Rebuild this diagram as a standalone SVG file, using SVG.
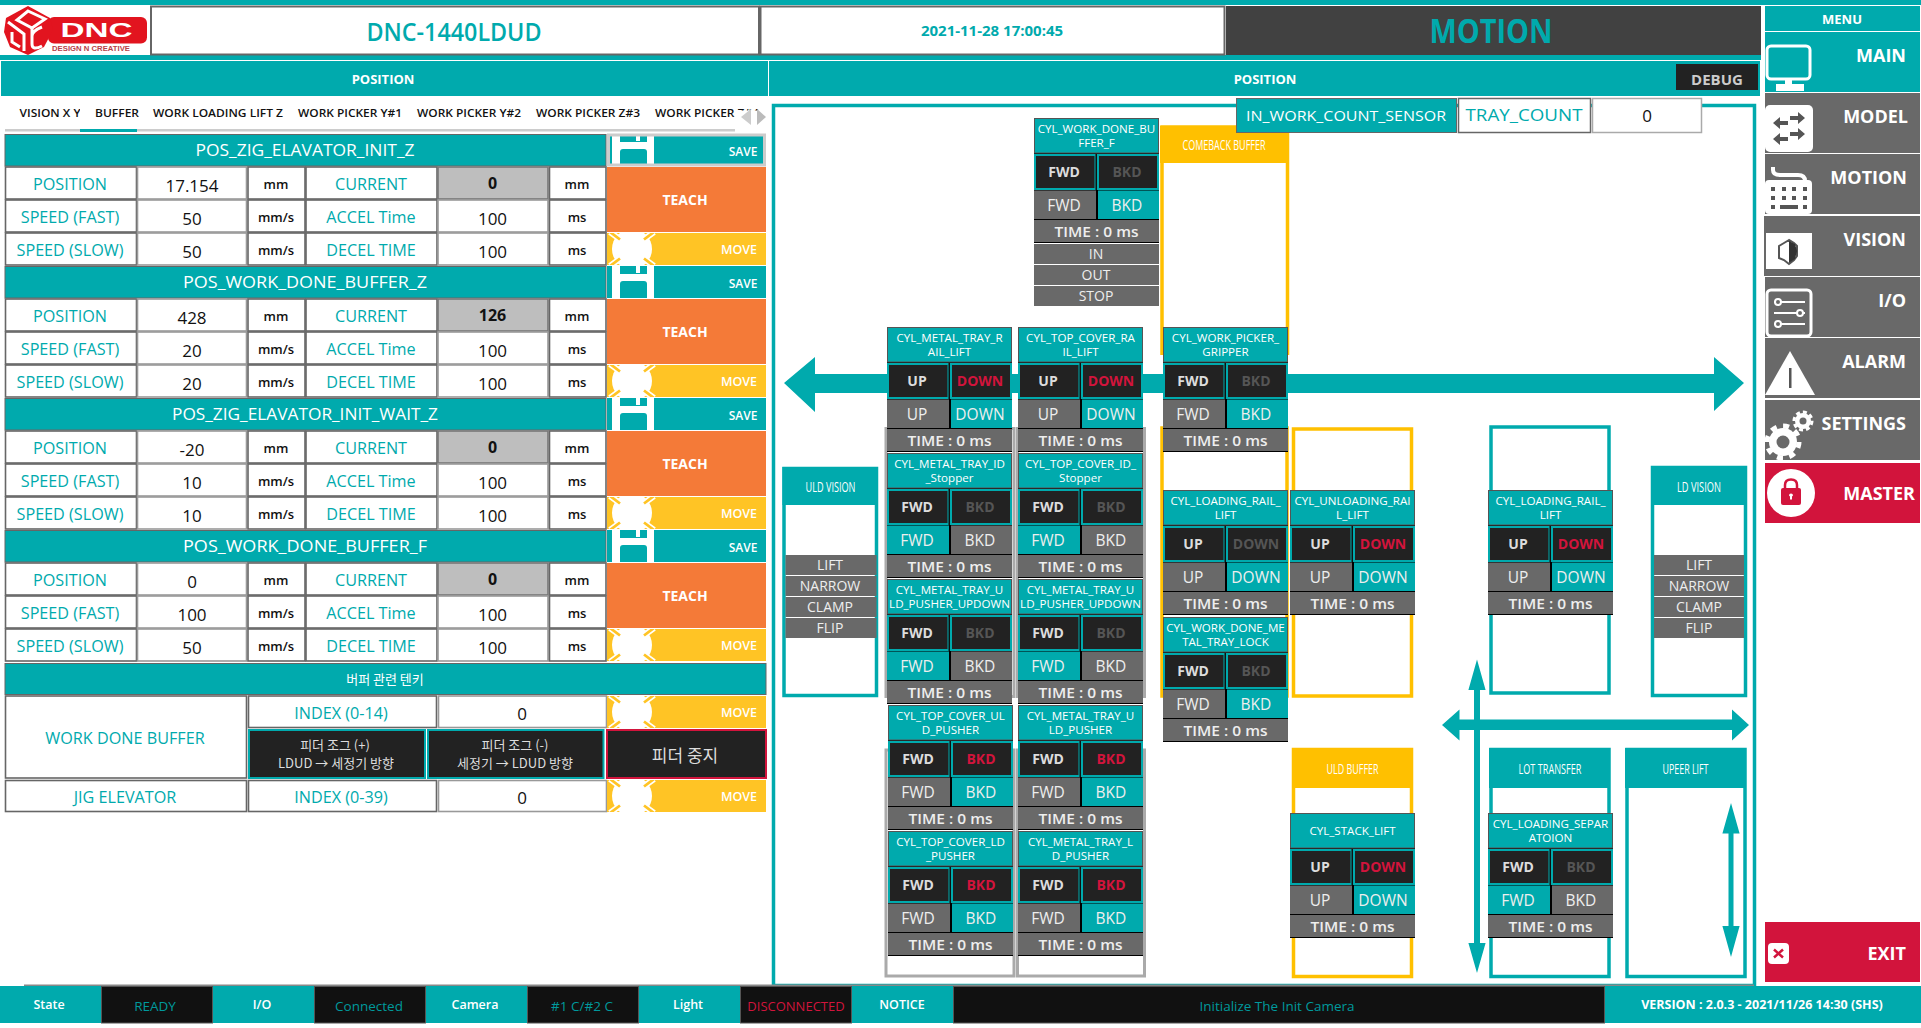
<svg xmlns="http://www.w3.org/2000/svg" width="1921" height="1028" viewBox="0 0 1921 1028">
<style>
text{font-family:"Open Sans","Noto Sans",sans-serif;text-anchor:middle;dominant-baseline:central;transform:translateY(-.3px)}
.w{fill:#fff}.tl{fill:#00aaad}.bk{fill:#000}.dk{fill:#222}.gy{fill:#696969}
.hb{font-size:13px;font-weight:700;fill:#fff}
.tab{font-size:11.5px;font-weight:600;fill:#111}
.sh{font-size:17px;fill:#fff}
.cl{fill:#fff;stroke:#666;stroke-width:1.6}
.cv{fill:#fff;stroke:#999;stroke-width:1.6}
.lb{font-size:16.2px;font-weight:500;fill:#00aaad}
.vl{font-size:17px;fill:#111}
.cu{font-size:16px;font-weight:700;fill:#111}
.un{font-size:13px;font-weight:600;fill:#111}
.sv{font-size:12px;font-weight:600;fill:#fff}
.tc{font-size:14px;font-weight:700;fill:#fff}
.mv{font-size:12.5px;font-weight:600;fill:#fff}
.pt{font-size:11.6px;font-weight:500;fill:#fff}
.ii{font-size:14px;font-weight:700;fill:#ddd}
.red{fill:#d2143c}.dim{fill:#555}
.pb{font-size:15.5px;font-weight:500;fill:#eee}
.pm{font-size:15px;font-weight:600;fill:#eee}
.bar{font-size:14px;font-weight:500;fill:#eee}
.frT{fill:none;stroke:#00aaad;stroke-width:3.5}
.frY{fill:none;stroke:#ffc000;stroke-width:3.5}
.frG{fill:none;stroke:#aaa;stroke-width:3}
.cap{font-size:14px;fill:#fff}
.mn{font-size:18px;font-weight:700;fill:#fff;text-anchor:end}
.st{font-size:12.5px;font-weight:600;fill:#fff}
.sd{font-size:13.5px;fill:#00999c}
.kr{font-family:"Noto Sans CJK KR","Noto Sans",sans-serif;fill:#ddd;font-size:13px}
</style>
<defs>
<clipPath id="mc"><rect x="0" y="0" width="159" height="32"/></clipPath>
<g id="pc">
<rect x="0" y="0" width="125" height="125" class="bk"/>
<rect x="0.5" y="0.5" width="124" height="34.5" class="tl" stroke="#555"/>
<rect x="0" y="36" width="125" height="36" class="tl"/>
<rect x="2" y="38" width="58.5" height="32" class="dk"/>
<rect x="65" y="38" width="58" height="32" class="dk"/>
<rect x="61.5" y="36" width="1.5" height="36" fill="#111"/>
<rect x="0" y="102" width="125" height="22" class="gy"/>
</g>
<g id="pl"><use href="#pc"/><rect x="0" y="72.5" width="62" height="28.5" class="tl"/><rect x="64" y="72.5" width="61" height="28.5" class="gy"/></g>
<g id="pr"><use href="#pc"/><rect x="0" y="72.5" width="62" height="28.5" class="gy"/><rect x="64" y="72.5" width="61" height="28.5" class="tl"/></g>
<g id="saveic">
<rect x="5" y="0" width="42" height="32" class="w"/>
<path d="M13 0H29V7H33V0H40V8H13Z" class="tl"/>
<path d="M13 32V18Q13 15 16 15H37Q40 15 40 18V32Z" class="tl"/>
</g>
<g id="moveb">
<rect x="0" y="0" width="159" height="32" fill="#ffc425"/>
<g clip-path="url(#mc)">
<ellipse cx="25" cy="16" rx="20" ry="20" class="w"/>
<path d="M3 -1L14 7M36 7L47 -1M3 33L14 25M36 25L47 33" stroke="#fff" stroke-width="6" fill="none"/>
<path d="M3 -1L13 6.500M37 6.500L47 -1M3 33L13 25.500M37 25.500L47 33" stroke="#ffc425" stroke-width="2.800" fill="none"/>
</g>
</g>
<g id="secb">
<rect x="5" y="0.5" width="601" height="31.5" class="tl" stroke="#666"/>
<rect x="5.5" y="33" width="131" height="32" class="cl"/><rect x="137.5" y="33" width="109" height="32" class="cv"/><rect x="248" y="33" width="57" height="32" class="cl"/><rect x="306" y="33" width="131" height="32" class="cl"/><rect x="438" y="33" width="110" height="32" fill="#bebebe" stroke="#777" stroke-width="1.6"/><rect x="549.5" y="33" width="56.5" height="32" class="cl"/>
<rect x="5.5" y="66" width="131" height="32" class="cl"/><rect x="137.5" y="66" width="109" height="32" class="cv"/><rect x="248" y="66" width="57" height="32" class="cl"/><rect x="306" y="66" width="131" height="32" class="cl"/><rect x="438" y="66" width="110" height="32" class="cv"/><rect x="549.5" y="66" width="56.5" height="32" class="cl"/>
<rect x="5.5" y="99" width="131" height="32" class="cl"/><rect x="137.5" y="99" width="109" height="32" class="cv"/><rect x="248" y="99" width="57" height="32" class="cl"/><rect x="306" y="99" width="131" height="32" class="cl"/><rect x="438" y="99" width="110" height="32" class="cv"/><rect x="549.5" y="99" width="56.5" height="32" class="cl"/>
<rect x="607" y="0" width="159" height="32" class="tl"/>
<use href="#saveic" x="607" y="0"/>
<rect x="607" y="33" width="159" height="65" fill="#f47a38"/>
<use href="#moveb" x="607" y="99"/>
</g>
</defs>

<rect width="1921" height="1028" fill="#fff"/>

<g id="top-bar">
<rect x="0" y="0" width="1921" height="5" class="tl"/>
<rect x="0" y="55" width="1761" height="5" class="tl"/>
<rect x="151" y="6.5" width="608" height="48" fill="#fff" stroke="#666" stroke-width="2"/>
<text x="454" y="31" font-size="26" font-weight="600" fill="#00aaad" textLength="175" lengthAdjust="spacingAndGlyphs">DNC-1440LDUD</text>
<rect x="760.5" y="6.5" width="464" height="48" fill="#fff" stroke="#666" stroke-width="2"/>
<text x="992" y="30" font-size="15" font-weight="700" fill="#00aaad">2021-11-28 17:00:45</text>
<rect x="1226" y="6" width="535" height="49" fill="#414141"/>
<text x="1491" y="30" font-size="34" font-weight="700" fill="#00aaad" textLength="123" lengthAdjust="spacingAndGlyphs">MOTION</text>
</g>

<g id="logo">
<rect x="48" y="17" width="99" height="26.500" rx="6" fill="#e2141f"/>
<path d="M28 6L50 18L53 30L44 47L28 55L10 47L4 32L6 18Z" fill="#e2141f"/>
<path d="M28 11L45 19L32 28L17 20Z" fill="#e2141f" stroke="#fff" stroke-width="3"/>
<path d="M8 22L24 34V51M12 32V42L20 47M32 28V36Q32 31 42 27M32 36V44Q32 51 42 46" fill="none" stroke="#fff" stroke-width="3"/>
<text x="96.500" y="30.500" style="font-family:'Liberation Sans',sans-serif" font-size="20" font-weight="700" fill="#fff" textLength="72" lengthAdjust="spacingAndGlyphs">DNC</text>
<text x="91" y="48.500" style="font-family:'Liberation Sans',sans-serif" font-size="7" font-weight="700" fill="#b84048" textLength="78" lengthAdjust="spacingAndGlyphs">DESIGN N CREATIVE</text>
</g>

<g id="left-position">
<rect x="1" y="61" width="767" height="35" class="tl"/>
<text x="383" y="79" class="hb">POSITION</text>
<rect x="5" y="129" width="730" height="2.5" fill="#ccc"/>
<rect x="80" y="129" width="57" height="3" class="tl"/>
<text x="50" y="113" class="tab" textLength="61" lengthAdjust="spacingAndGlyphs">VISION X Y</text>
<rect x="80" y="105" width="12" height="20" class="w"/>
<text x="117" y="113" class="tab" textLength="44" lengthAdjust="spacingAndGlyphs">BUFFER</text>
<text x="218" y="113" class="tab" textLength="130" lengthAdjust="spacingAndGlyphs">WORK LOADING LIFT Z</text>
<text x="350" y="113" class="tab" textLength="104" lengthAdjust="spacingAndGlyphs">WORK PICKER Y#1</text>
<text x="469" y="113" class="tab" textLength="104" lengthAdjust="spacingAndGlyphs">WORK PICKER Y#2</text>
<text x="588" y="113" class="tab" textLength="104" lengthAdjust="spacingAndGlyphs">WORK PICKER Z#3</text>
<text x="707" y="113" class="tab" textLength="104" lengthAdjust="spacingAndGlyphs">WORK PICKER Z#4</text>
<rect x="735" y="110.500" width="32" height="22" class="w"/>
<path d="M741 117L751 109V125Z" fill="#ccc"/>
<path d="M766 117L757 109V125Z" fill="#bbb"/>
</g>

<g id="sec-1" transform="translate(0,134)">
<use href="#secb"/>
<rect x="608.5" y="1" width="156" height="30" fill="none" stroke="#ccc" stroke-width="3"/>
<text x="305" y="16" class="sh" textLength="219" lengthAdjust="spacingAndGlyphs">POS_ZIG_ELAVATOR_INIT_Z</text>
<text x="70" y="50" class="lb">POSITION</text><text x="192" y="51.5" class="vl">17.154</text><text x="276" y="50" class="un">mm</text><text x="371" y="50" class="lb">CURRENT</text><text x="492.5" y="49" class="cu">0</text><text x="577" y="50" class="un">mm</text>
<text x="70" y="83" class="lb">SPEED (FAST)</text><text x="192" y="84.5" class="vl">50</text><text x="276" y="83" class="un">mm/s</text><text x="371" y="83" class="lb">ACCEL Time</text><text x="492.5" y="84.5" class="vl">100</text><text x="577" y="83" class="un">ms</text>
<text x="70" y="116" class="lb">SPEED (SLOW)</text><text x="192" y="117.5" class="vl">50</text><text x="276" y="116" class="un">mm/s</text><text x="371" y="116" class="lb">DECEL TIME</text><text x="492.5" y="117.5" class="vl">100</text><text x="577" y="116" class="un">ms</text>
<text x="743" y="18" class="sv">SAVE</text><text x="685" y="66" class="tc">TEACH</text><text x="739" y="116" class="mv">MOVE</text>
</g>
<g id="sec-2" transform="translate(0,266)">
<use href="#secb"/>
<text x="305" y="16" class="sh" textLength="244" lengthAdjust="spacingAndGlyphs">POS_WORK_DONE_BUFFER_Z</text>
<text x="70" y="50" class="lb">POSITION</text><text x="192" y="51.5" class="vl">428</text><text x="276" y="50" class="un">mm</text><text x="371" y="50" class="lb">CURRENT</text><text x="492.5" y="49" class="cu">126</text><text x="577" y="50" class="un">mm</text>
<text x="70" y="83" class="lb">SPEED (FAST)</text><text x="192" y="84.5" class="vl">20</text><text x="276" y="83" class="un">mm/s</text><text x="371" y="83" class="lb">ACCEL Time</text><text x="492.5" y="84.5" class="vl">100</text><text x="577" y="83" class="un">ms</text>
<text x="70" y="116" class="lb">SPEED (SLOW)</text><text x="192" y="117.5" class="vl">20</text><text x="276" y="116" class="un">mm/s</text><text x="371" y="116" class="lb">DECEL TIME</text><text x="492.5" y="117.5" class="vl">100</text><text x="577" y="116" class="un">ms</text>
<text x="743" y="18" class="sv">SAVE</text><text x="685" y="66" class="tc">TEACH</text><text x="739" y="116" class="mv">MOVE</text>
</g>
<g id="sec-3" transform="translate(0,398)">
<use href="#secb"/>
<text x="305" y="16" class="sh" textLength="266" lengthAdjust="spacingAndGlyphs">POS_ZIG_ELAVATOR_INIT_WAIT_Z</text>
<text x="70" y="50" class="lb">POSITION</text><text x="192" y="51.5" class="vl">-20</text><text x="276" y="50" class="un">mm</text><text x="371" y="50" class="lb">CURRENT</text><text x="492.5" y="49" class="cu">0</text><text x="577" y="50" class="un">mm</text>
<text x="70" y="83" class="lb">SPEED (FAST)</text><text x="192" y="84.5" class="vl">10</text><text x="276" y="83" class="un">mm/s</text><text x="371" y="83" class="lb">ACCEL Time</text><text x="492.5" y="84.5" class="vl">100</text><text x="577" y="83" class="un">ms</text>
<text x="70" y="116" class="lb">SPEED (SLOW)</text><text x="192" y="117.5" class="vl">10</text><text x="276" y="116" class="un">mm/s</text><text x="371" y="116" class="lb">DECEL TIME</text><text x="492.5" y="117.5" class="vl">100</text><text x="577" y="116" class="un">ms</text>
<text x="743" y="18" class="sv">SAVE</text><text x="685" y="66" class="tc">TEACH</text><text x="739" y="116" class="mv">MOVE</text>
</g>
<g id="sec-4" transform="translate(0,530)">
<use href="#secb"/>
<text x="305" y="16" class="sh" textLength="244" lengthAdjust="spacingAndGlyphs">POS_WORK_DONE_BUFFER_F</text>
<text x="70" y="50" class="lb">POSITION</text><text x="192" y="51.5" class="vl">0</text><text x="276" y="50" class="un">mm</text><text x="371" y="50" class="lb">CURRENT</text><text x="492.5" y="49" class="cu">0</text><text x="577" y="50" class="un">mm</text>
<text x="70" y="83" class="lb">SPEED (FAST)</text><text x="192" y="84.5" class="vl">100</text><text x="276" y="83" class="un">mm/s</text><text x="371" y="83" class="lb">ACCEL Time</text><text x="492.5" y="84.5" class="vl">100</text><text x="577" y="83" class="un">ms</text>
<text x="70" y="116" class="lb">SPEED (SLOW)</text><text x="192" y="117.5" class="vl">50</text><text x="276" y="116" class="un">mm/s</text><text x="371" y="116" class="lb">DECEL TIME</text><text x="492.5" y="117.5" class="vl">100</text><text x="577" y="116" class="un">ms</text>
<text x="743" y="18" class="sv">SAVE</text><text x="685" y="66" class="tc">TEACH</text><text x="739" y="116" class="mv">MOVE</text>
</g>

<g id="buffer-teach">
<rect x="5" y="663.5" width="761" height="31" class="tl" stroke="#666"/>
<text x="385" y="679" class="kr" style="fill:#fff">버퍼 관련 텐키</text>
<rect x="5.5" y="696" width="241" height="82" class="cl"/>
<text x="125" y="738" class="lb">WORK DONE BUFFER</text>
<rect x="248.5" y="696" width="188" height="31.5" class="cl"/>
<text x="341" y="713" class="lb">INDEX (0-14)</text>
<rect x="438.5" y="696" width="168" height="31.5" class="cv"/>
<text x="522" y="714" class="vl">0</text>
<use href="#moveb" x="607" y="696"/>
<text x="739" y="713" class="mv">MOVE</text>
<rect x="249" y="730" width="176" height="48" class="dk" stroke="#00aaad" stroke-width="2"/>
<text x="335" y="745" class="kr">피더 조그 (+)</text>
<text x="336" y="763" class="kr">LDUD → 세정기 방향</text>
<rect x="428" y="730" width="175.500" height="48" class="dk" stroke="#00aaad" stroke-width="2"/>
<text x="515" y="745" class="kr">피더 조그 (-)</text>
<text x="515" y="763" class="kr">세정기 → LDUD 방향</text>
<rect x="607" y="730" width="159" height="48" class="dk" stroke="#d2143c" stroke-width="2"/>
<text x="685" y="755" class="kr" style="font-size:17px">피더 중지</text>
<rect x="5.5" y="780.500" width="241" height="31" class="cl"/>
<text x="125" y="797" class="lb">JIG ELEVATOR</text>
<rect x="248.5" y="780.500" width="188" height="31" class="cl"/>
<text x="341" y="797" class="lb">INDEX (0-39)</text>
<rect x="438.5" y="780.500" width="168" height="31" class="cv"/>
<text x="522" y="798" class="vl">0</text>
<use href="#moveb" x="607" y="780"/>
<text x="739" y="797" class="mv">MOVE</text>
</g>

<g id="right-position">
<rect x="769" y="61" width="991" height="35" class="tl"/>
<text x="1265" y="79" class="hb">POSITION</text>
<rect x="1676" y="64" width="82" height="26" class="dk"/>
<text x="1717" y="79" font-size="15" font-weight="700" fill="#ccc">DEBUG</text>
<rect x="773.5" y="105.500" width="981" height="880" fill="#fff" stroke="#00aaad" stroke-width="3.5"/>
</g>

<g id="connectors">
<path d="M784 383L815 357V374H1714V357L1744 383L1714 411V393H815V412Z" class="tl"/>
<path d="M1442 725L1459.500 709.500V719.500H1732V709.500L1749 725L1732 740.500V730H1459.500V740.500Z" class="tl"/>
<path d="M1477 659.500L1485.600 690H1480V943H1485.600L1477 973L1468.400 943H1474V690H1468.400Z" class="tl"/>
</g>

<g id="frames">
<rect x="886" y="428.500" width="128" height="268" class="frG"/>
<rect x="1017.500" y="428.500" width="127" height="268" class="frG"/>
<rect x="886" y="750" width="128" height="226" class="frG"/>
<rect x="1017.500" y="750" width="127" height="226" class="frG"/>
<rect x="1162" y="428" width="125" height="268" class="frY"/>
<path d="M1162 355V127H1287.500V355" class="frY"/>
<rect x="1160" y="126" width="129" height="37" fill="#ffc000"/>
<text x="1224" y="145" class="cap" textLength="83" lengthAdjust="spacingAndGlyphs">COMEBACK BUFFER</text>
<rect x="1293.500" y="429" width="118" height="267" class="frY"/>
<rect x="1491" y="427" width="118" height="266" class="frT"/>
</g>

<g id="uld-vision">
<rect x="784" y="468.500" width="92.500" height="227" class="frT"/>
<rect x="782.500" y="467" width="95.500" height="38" class="tl"/>
<text x="830.500" y="487" class="cap" textLength="50" lengthAdjust="spacingAndGlyphs">ULD VISION</text>
<rect x="785.500" y="555" width="91" height="20" class="gy"/><text x="830" y="565" class="bar">LIFT</text>
<rect x="785.500" y="576" width="91" height="20" class="gy"/><text x="830" y="586" class="bar">NARROW</text>
<rect x="785.500" y="597" width="91" height="20" class="gy"/><text x="830" y="607" class="bar">CLAMP</text>
<rect x="785.500" y="618" width="91" height="20" class="gy"/><text x="830" y="628" class="bar">FLIP</text>
</g>
<g id="ld-vision">
<rect x="1652.500" y="467.500" width="93" height="228" class="frT"/>
<rect x="1651" y="466" width="96" height="39" class="tl"/>
<text x="1699" y="487" class="cap" textLength="44" lengthAdjust="spacingAndGlyphs">LD VISION</text>
<rect x="1654" y="555" width="90" height="20" class="gy"/><text x="1699" y="565" class="bar">LIFT</text>
<rect x="1654" y="576" width="90" height="20" class="gy"/><text x="1699" y="586" class="bar">NARROW</text>
<rect x="1654" y="597" width="90" height="20" class="gy"/><text x="1699" y="607" class="bar">CLAMP</text>
<rect x="1654" y="618" width="90" height="20" class="gy"/><text x="1699" y="628" class="bar">FLIP</text>
</g>
<g id="uld-buffer">
<rect x="1293.500" y="749.500" width="118" height="227" class="frY"/>
<rect x="1292" y="748" width="121" height="40" fill="#ffc000"/>
<text x="1352.500" y="769" class="cap" textLength="52" lengthAdjust="spacingAndGlyphs">ULD BUFFER</text>
</g>
<g id="lot-transfer">
<rect x="1491" y="749.500" width="118" height="227" class="frT"/>
<rect x="1489" y="748" width="121" height="40" class="tl"/>
<text x="1550" y="769" class="cap" textLength="63" lengthAdjust="spacingAndGlyphs">LOT TRANSFER</text>
</g>
<g id="upper-lift">
<rect x="1627" y="749.500" width="118" height="227" class="frT"/>
<rect x="1625" y="748" width="121" height="40" class="tl"/>
<text x="1685.500" y="769" class="cap" textLength="46" lengthAdjust="spacingAndGlyphs">UPEER LIFT</text>
<path d="M1731 803L1739.600 833.500H1733.500V926H1739.600L1731 957L1722.400 926H1728.500V833.500H1722.400Z" class="tl"/>
</g>

<g id="cyl-work-done-buffer-f" transform="translate(1034,118)">
<use href="#pr"/>
<text x="62.500" y="11" class="pt">CYL_WORK_DONE_BU</text><text x="62.500" y="25" class="pt">FFER_F</text>
<text x="30" y="54" class="ii">FWD</text><text x="93" y="54" class="ii dim">BKD</text>
<text x="30" y="87" class="pb">FWD</text><text x="93" y="87" class="pb">BKD</text>
<text x="62.500" y="113" class="pm" textLength="84" lengthAdjust="spacingAndGlyphs">TIME : 0 ms</text>
<rect x="0" y="126" width="125" height="20" class="gy"/><text x="62" y="136" class="bar">IN</text>
<rect x="0" y="147" width="125" height="20" class="gy"/><text x="62" y="157" class="bar">OUT</text>
<rect x="0" y="168" width="125" height="20" class="gy"/><text x="62" y="178" class="bar">STOP</text>
</g>

<g id="cyl-metal-tray-rail-lift" transform="translate(887,327)"><use href="#pr"/>
<text x="62.500" y="11" class="pt">CYL_METAL_TRAY_R</text><text x="62.500" y="25" class="pt">AIL_LIFT</text>
<text x="30" y="54" class="ii">UP</text><text x="93" y="54" class="ii red">DOWN</text>
<text x="30" y="87" class="pb">UP</text><text x="93" y="87" class="pb">DOWN</text>
<text x="62.500" y="113" class="pm" textLength="84" lengthAdjust="spacingAndGlyphs">TIME : 0 ms</text></g>
<g id="cyl-metal-tray-id-stopper" transform="translate(887,453)"><use href="#pl"/>
<text x="62.500" y="11" class="pt">CYL_METAL_TRAY_ID</text><text x="62.500" y="25" class="pt">_Stopper</text>
<text x="30" y="54" class="ii">FWD</text><text x="93" y="54" class="ii dim">BKD</text>
<text x="30" y="87" class="pb">FWD</text><text x="93" y="87" class="pb">BKD</text>
<text x="62.500" y="113" class="pm" textLength="84" lengthAdjust="spacingAndGlyphs">TIME : 0 ms</text></g>
<g id="cyl-metal-tray-uld-pusher-updown-1" transform="translate(887,579)"><use href="#pl"/>
<text x="62.500" y="11" class="pt">CYL_METAL_TRAY_U</text><text x="62.500" y="25" class="pt">LD_PUSHER_UPDOWN</text>
<text x="30" y="54" class="ii">FWD</text><text x="93" y="54" class="ii dim">BKD</text>
<text x="30" y="87" class="pb">FWD</text><text x="93" y="87" class="pb">BKD</text>
<text x="62.500" y="113" class="pm" textLength="84" lengthAdjust="spacingAndGlyphs">TIME : 0 ms</text></g>
<g id="cyl-top-cover-uld-pusher" transform="translate(888,705)"><use href="#pr"/>
<text x="62.500" y="11" class="pt">CYL_TOP_COVER_UL</text><text x="62.500" y="25" class="pt">D_PUSHER</text>
<text x="30" y="54" class="ii">FWD</text><text x="93" y="54" class="ii red">BKD</text>
<text x="30" y="87" class="pb">FWD</text><text x="93" y="87" class="pb">BKD</text>
<text x="62.500" y="113" class="pm" textLength="84" lengthAdjust="spacingAndGlyphs">TIME : 0 ms</text></g>
<g id="cyl-top-cover-ld-pusher" transform="translate(888,831)"><use href="#pr"/>
<text x="62.500" y="11" class="pt">CYL_TOP_COVER_LD</text><text x="62.500" y="25" class="pt">_PUSHER</text>
<text x="30" y="54" class="ii">FWD</text><text x="93" y="54" class="ii red">BKD</text>
<text x="30" y="87" class="pb">FWD</text><text x="93" y="87" class="pb">BKD</text>
<text x="62.500" y="113" class="pm" textLength="84" lengthAdjust="spacingAndGlyphs">TIME : 0 ms</text></g>

<g id="cyl-top-cover-rail-lift" transform="translate(1018,327)"><use href="#pr"/>
<text x="62.500" y="11" class="pt">CYL_TOP_COVER_RA</text><text x="62.500" y="25" class="pt">IL_LIFT</text>
<text x="30" y="54" class="ii">UP</text><text x="93" y="54" class="ii red">DOWN</text>
<text x="30" y="87" class="pb">UP</text><text x="93" y="87" class="pb">DOWN</text>
<text x="62.500" y="113" class="pm" textLength="84" lengthAdjust="spacingAndGlyphs">TIME : 0 ms</text></g>
<g id="cyl-top-cover-id-stopper" transform="translate(1018,453)"><use href="#pl"/>
<text x="62.500" y="11" class="pt">CYL_TOP_COVER_ID_</text><text x="62.500" y="25" class="pt">Stopper</text>
<text x="30" y="54" class="ii">FWD</text><text x="93" y="54" class="ii dim">BKD</text>
<text x="30" y="87" class="pb">FWD</text><text x="93" y="87" class="pb">BKD</text>
<text x="62.500" y="113" class="pm" textLength="84" lengthAdjust="spacingAndGlyphs">TIME : 0 ms</text></g>
<g id="cyl-metal-tray-uld-pusher-updown-2" transform="translate(1018,579)"><use href="#pl"/>
<text x="62.500" y="11" class="pt">CYL_METAL_TRAY_U</text><text x="62.500" y="25" class="pt">LD_PUSHER_UPDOWN</text>
<text x="30" y="54" class="ii">FWD</text><text x="93" y="54" class="ii dim">BKD</text>
<text x="30" y="87" class="pb">FWD</text><text x="93" y="87" class="pb">BKD</text>
<text x="62.500" y="113" class="pm" textLength="84" lengthAdjust="spacingAndGlyphs">TIME : 0 ms</text></g>
<g id="cyl-metal-tray-uld-pusher" transform="translate(1018,705)"><use href="#pr"/>
<text x="62.500" y="11" class="pt">CYL_METAL_TRAY_U</text><text x="62.500" y="25" class="pt">LD_PUSHER</text>
<text x="30" y="54" class="ii">FWD</text><text x="93" y="54" class="ii red">BKD</text>
<text x="30" y="87" class="pb">FWD</text><text x="93" y="87" class="pb">BKD</text>
<text x="62.500" y="113" class="pm" textLength="84" lengthAdjust="spacingAndGlyphs">TIME : 0 ms</text></g>
<g id="cyl-metal-tray-ld-pusher" transform="translate(1018,831)"><use href="#pr"/>
<text x="62.500" y="11" class="pt">CYL_METAL_TRAY_L</text><text x="62.500" y="25" class="pt">D_PUSHER</text>
<text x="30" y="54" class="ii">FWD</text><text x="93" y="54" class="ii red">BKD</text>
<text x="30" y="87" class="pb">FWD</text><text x="93" y="87" class="pb">BKD</text>
<text x="62.500" y="113" class="pm" textLength="84" lengthAdjust="spacingAndGlyphs">TIME : 0 ms</text></g>

<g id="cyl-work-picker-gripper" transform="translate(1163,327)"><use href="#pr"/>
<text x="62.500" y="11" class="pt">CYL_WORK_PICKER_</text><text x="62.500" y="25" class="pt">GRIPPER</text>
<text x="30" y="54" class="ii">FWD</text><text x="93" y="54" class="ii dim">BKD</text>
<text x="30" y="87" class="pb">FWD</text><text x="93" y="87" class="pb">BKD</text>
<text x="62.500" y="113" class="pm" textLength="84" lengthAdjust="spacingAndGlyphs">TIME : 0 ms</text></g>
<g id="cyl-loading-rail-lift-1" transform="translate(1163,490)"><use href="#pr"/>
<text x="62.500" y="11" class="pt">CYL_LOADING_RAIL_</text><text x="62.500" y="25" class="pt">LIFT</text>
<text x="30" y="54" class="ii">UP</text><text x="93" y="54" class="ii dim">DOWN</text>
<text x="30" y="87" class="pb">UP</text><text x="93" y="87" class="pb">DOWN</text>
<text x="62.500" y="113" class="pm" textLength="84" lengthAdjust="spacingAndGlyphs">TIME : 0 ms</text></g>
<g id="cyl-work-done-metal-tray-lock" transform="translate(1163,617)"><use href="#pr"/>
<text x="62.500" y="11" class="pt">CYL_WORK_DONE_ME</text><text x="62.500" y="25" class="pt">TAL_TRAY_LOCK</text>
<text x="30" y="54" class="ii">FWD</text><text x="93" y="54" class="ii dim">BKD</text>
<text x="30" y="87" class="pb">FWD</text><text x="93" y="87" class="pb">BKD</text>
<text x="62.500" y="113" class="pm" textLength="84" lengthAdjust="spacingAndGlyphs">TIME : 0 ms</text></g>
<g id="cyl-unloading-rail-lift" transform="translate(1290,490)"><use href="#pr"/>
<text x="62.500" y="11" class="pt">CYL_UNLOADING_RAI</text><text x="62.500" y="25" class="pt">L_LIFT</text>
<text x="30" y="54" class="ii">UP</text><text x="93" y="54" class="ii red">DOWN</text>
<text x="30" y="87" class="pb">UP</text><text x="93" y="87" class="pb">DOWN</text>
<text x="62.500" y="113" class="pm" textLength="84" lengthAdjust="spacingAndGlyphs">TIME : 0 ms</text></g>
<g id="cyl-stack-lift" transform="translate(1290,813)"><use href="#pr"/>
<text x="62.500" y="17.500" class="pt">CYL_STACK_LIFT</text>
<text x="30" y="54" class="ii">UP</text><text x="93" y="54" class="ii red">DOWN</text>
<text x="30" y="87" class="pb">UP</text><text x="93" y="87" class="pb">DOWN</text>
<text x="62.500" y="113" class="pm" textLength="84" lengthAdjust="spacingAndGlyphs">TIME : 0 ms</text></g>
<g id="cyl-loading-rail-lift-2" transform="translate(1488,490)"><use href="#pr"/>
<text x="62.500" y="11" class="pt">CYL_LOADING_RAIL_</text><text x="62.500" y="25" class="pt">LIFT</text>
<text x="30" y="54" class="ii">UP</text><text x="93" y="54" class="ii red">DOWN</text>
<text x="30" y="87" class="pb">UP</text><text x="93" y="87" class="pb">DOWN</text>
<text x="62.500" y="113" class="pm" textLength="84" lengthAdjust="spacingAndGlyphs">TIME : 0 ms</text></g>
<g id="cyl-loading-separatoion" transform="translate(1488,813)"><use href="#pl"/>
<text x="62.500" y="11" class="pt">CYL_LOADING_SEPAR</text><text x="62.500" y="25" class="pt">ATOION</text>
<text x="30" y="54" class="ii">FWD</text><text x="93" y="54" class="ii dim">BKD</text>
<text x="30" y="87" class="pb">FWD</text><text x="93" y="87" class="pb">BKD</text>
<text x="62.500" y="113" class="pm" textLength="84" lengthAdjust="spacingAndGlyphs">TIME : 0 ms</text></g>

<g id="sensor">
<rect x="1236.500" y="98.500" width="220" height="34" class="tl" stroke="#666"/>
<text x="1346" y="115" font-size="15" font-weight="500" fill="#fff" textLength="200" lengthAdjust="spacingAndGlyphs">IN_WORK_COUNT_SENSOR</text>
<rect x="1458.500" y="98.500" width="132" height="34" fill="#fff" stroke="#666" stroke-width="1.500"/>
<text x="1524" y="115" font-size="17" font-weight="500" fill="#00aaad" textLength="117" lengthAdjust="spacingAndGlyphs">TRAY_COUNT</text>
<rect x="1592.500" y="98.500" width="109" height="34" fill="#fff" stroke="#aaa" stroke-width="1.500"/>
<text x="1647" y="116" class="vl">0</text>
</g>

<g id="menu">
<rect x="1765" y="6" width="155" height="25" class="tl"/><text x="1842" y="19" class="hb">MENU</text>
<g id="m-main"><rect x="1765" y="32" width="155" height="60" class="tl"/>
<rect x="1767" y="46" width="43" height="33" rx="4" class="tl" stroke="#fff" stroke-width="3"/>
<path d="M1785 80H1792V84H1804V91H1776V84H1785Z" class="w"/>
<text x="1906" y="55" class="mn">MAIN</text></g>
<g id="m-model"><rect x="1765" y="93" width="155" height="60" class="gy"/>
<rect x="1765" y="105" width="48" height="47" rx="5" class="w"/>
<path d="M1773 123L1780 117V121H1788V125H1780V129ZM1805 118L1798 112V116H1790V120H1798V124ZM1773 139L1780 133V137H1788V141H1780V145ZM1805 134L1798 128V132H1790V136H1798V140Z" fill="#555"/>
<text x="1908" y="116.500" class="mn">MODEL</text></g>
<g id="m-motion"><rect x="1765" y="154" width="155" height="60" class="gy"/>
<path d="M1773 167V170Q1773 175 1780 175H1798Q1805 175 1805 181" fill="none" stroke="#fff" stroke-width="4"/>
<rect x="1765" y="180" width="47" height="34" rx="4" class="w"/>
<path d="M1771 187h4v4h-4zM1782 187h4v4h-4zM1792 187h4v4h-4zM1803 187h4v4h-4zM1771 196h4v4h-4zM1782 196h4v4h-4zM1792 196h4v4h-4zM1803 196h4v4h-4zM1771 205h4v4h-4zM1780 205h18v4h-18zM1803 205h4v4h-4z" fill="#555"/>
<text x="1907" y="177.500" class="mn">MOTION</text></g>
<g id="m-vision"><rect x="1764" y="216" width="156" height="60" class="gy"/>
<rect x="1766" y="233" width="46" height="36" class="w"/>
<path d="M1789 240L1784 243L1779 246V258L1784 260L1789 264L1794 260L1797 256V246L1794 243Z" class="w" stroke="#555" stroke-width="2"/>
<path d="M1789 241L1795 244L1797 251L1795 259L1789 263Z" fill="#333"/>
<text x="1906" y="239.500" class="mn">VISION</text></g>
<g id="m-io"><rect x="1765" y="277" width="155" height="60" class="gy"/>
<rect x="1767" y="290" width="44" height="46" rx="4" class="gy" stroke="#fff" stroke-width="3"/>
<path d="M1774 302H1805M1774 313H1805M1774 324H1805" stroke="#fff" stroke-width="2"/>
<circle cx="1778" cy="302" r="3" class="gy" stroke="#fff" stroke-width="2"/><circle cx="1800" cy="313" r="3" class="gy" stroke="#fff" stroke-width="2"/><circle cx="1778" cy="324" r="3" class="gy" stroke="#fff" stroke-width="2"/>
<text x="1906" y="300" class="mn">I/O</text></g>
<g id="m-alarm"><rect x="1765" y="338" width="155" height="60" class="gy"/>
<path d="M1790 351L1815 395H1765Z" class="w"/>
<rect x="1789" y="368" width="2.500" height="20" fill="#555"/>
<text x="1906" y="361.500" class="mn">ALARM</text></g>
<g id="m-settings"><rect x="1765" y="400" width="155" height="60" class="gy"/>
<circle cx="1783" cy="442" r="14" class="w"/>
<circle cx="1783" cy="442" r="16" fill="none" stroke="#fff" stroke-width="5" stroke-dasharray="6 6.500"/>
<circle cx="1783" cy="442" r="6.500" class="gy"/>
<circle cx="1803" cy="421" r="8" class="w"/>
<circle cx="1803" cy="421" r="9" fill="none" stroke="#fff" stroke-width="3" stroke-dasharray="4 3"/>
<circle cx="1803" cy="421" r="3.500" class="gy"/>
<text x="1906" y="423.500" class="mn">SETTINGS</text></g>
<g id="m-master"><rect x="1765" y="463" width="155" height="60" fill="#d2143c"/>
<circle cx="1791" cy="493" r="24" class="w"/>
<rect x="1781" y="488" width="20" height="17" rx="2" fill="#d2143c"/>
<path d="M1785 489V485Q1785 479.500 1791 479.500Q1797 479.500 1797 485V489" fill="none" stroke="#d2143c" stroke-width="2.500"/>
<path d="M1789 495.500a2 2 0 1 1 4 0l-1 1v3h-2v-3z" class="w"/>
<text x="1915" y="493" class="mn">MASTER</text></g>
<g id="m-exit"><rect x="1765" y="922" width="155" height="60" fill="#d2143c"/>
<rect x="1768" y="943" width="21" height="21" rx="4" class="w"/>
<path d="M1774 949.500L1783 957.500M1783 949.500L1774 957.500" stroke="#d2143c" stroke-width="2.500"/>
<text x="1906" y="953" class="mn">EXIT</text></g>
</g>

<g id="status-bar">
<rect x="24" y="984.500" width="1730" height="1.500" fill="#888"/>
<rect x="0" y="986" width="1921" height="37" class="tl"/>
<rect x="101.500" y="986.500" width="111" height="36.500" fill="#111" stroke="#555"/><text x="49" y="1005" class="st">State</text><text x="155" y="1006" class="sd">READY</text>
<text x="262" y="1005" class="st">I/O</text>
<rect x="314.500" y="986.500" width="111" height="36.500" fill="#111" stroke="#555"/><text x="369" y="1006" class="sd">Connected</text>
<text x="475" y="1005" class="st">Camera</text>
<rect x="527.500" y="986.500" width="111" height="36.500" fill="#111" stroke="#555"/><text x="582" y="1006" class="sd">#1 C/#2 C</text>
<text x="688" y="1005" class="st">Light</text>
<rect x="740.500" y="986.500" width="111" height="36.500" fill="#111" stroke="#555"/><text x="796" y="1006" class="sd" style="fill:#d2143c;font-size:13px">DISCONNECTED</text>
<text x="902" y="1005" class="st">NOTICE</text>
<rect x="953.500" y="986.500" width="651" height="36.500" fill="#111" stroke="#555"/><text x="1277" y="1006" class="sd">Initialize The Init Camera</text>
<text x="1762" y="1005" class="st" style="font-weight:700">VERSION : 2.0.3 - 2021/11/26 14:30 (SHS)</text>
</g>
</svg>
